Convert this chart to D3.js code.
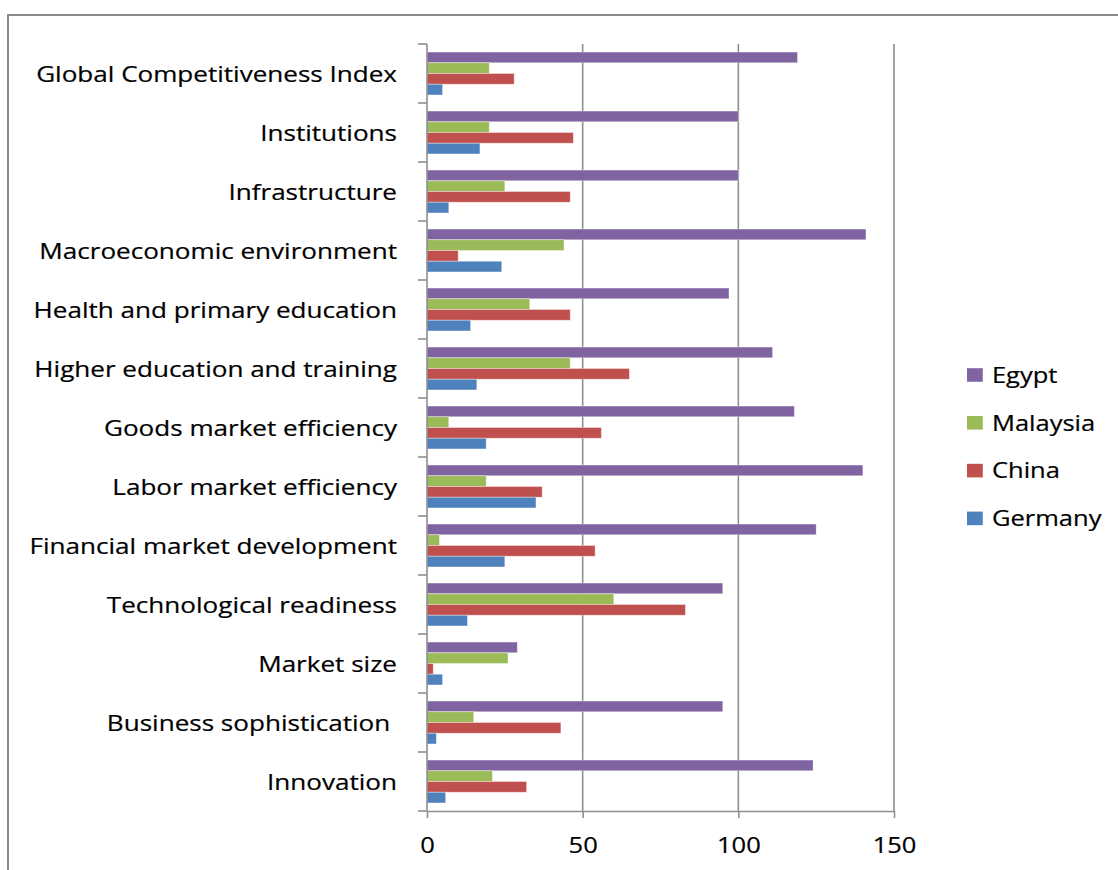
<!DOCTYPE html>
<html>
<head>
<meta charset="utf-8">
<script src="https://cdn.jsdelivr.net/npm/d3@7/dist/d3.min.js"></script>
<style>
  html, body { margin: 0; padding: 0; background: #fff; }
  svg text { font-family: "Open Sans", "Noto Sans", sans-serif; fill: #000; stroke: #000; stroke-width: 0.2px; white-space: pre; }
</style>
</head>
<body>
<svg id="chart" width="1118" height="870"></svg>
<script>
// Global Competitiveness rankings by pillar
const categories = [
  "Global Competitiveness Index",
  "Institutions",
  "Infrastructure",
  "Macroeconomic environment",
  "Health and primary education",
  "Higher education and training",
  "Goods market efficiency",
  "Labor market efficiency",
  "Financial market development",
  "Technological readiness",
  "Market size",
  "Business sophistication ",
  "Innovation"
];
const series = ["Egypt", "Malaysia", "China", "Germany"];
const egypt    = [119, 100, 100, 141, 97, 111, 118, 140, 125, 95, 29, 95, 124];
const malaysia = [20, 20, 25, 44, 33, 46, 7, 19, 4, 60, 26, 15, 21];
const china    = [28, 47, 46, 10, 46, 65, 56, 37, 54, 83, 2, 43, 32];
const germany  = [5, 17, 7, 24, 14, 16, 19, 35, 25, 13, 5, 3, 6];
const xTicks = [0, 50, 100, 150];

const seriesValues = { Egypt: egypt, Malaysia: malaysia, China: china, Germany: germany };
const colors = d3.scaleOrdinal()
  .domain(series)
  .range(["#8064A2", "#9BBB59", "#C0504D", "#4F81BD"]);

const svg = d3.select("#chart");
const stretch = 1.16;      // horizontal text stretch
const labelStretch = 1.185;
const fontSize = 22;
const gridColor = "#8f8f8f";

// chart area frame
svg.append("rect")
  .attr("x", 8).attr("y", 15)
  .attr("width", 1300).attr("height", 1000)
  .attr("fill", "none").attr("stroke", "#8a8a8a").attr("stroke-width", 2);

const x = d3.scaleLinear().domain([0, 150]).range([427, 894]);
const y = d3.scaleBand().domain(categories).range([44, 811]).paddingInner(0).paddingOuter(0);
const bw = y.bandwidth();
const barH = bw / (series.length + 1.5);
const ySub = d3.scaleBand().domain(series)
  .range([barH * 0.75, bw - barH * 0.75]).padding(0);

// vertical gridlines
svg.append("g").selectAll("line")
  .data(xTicks.filter(t => t > 0))
  .join("line")
  .attr("x1", d => x(d)).attr("x2", d => x(d))
  .attr("y1", y.range()[0]).attr("y2", y.range()[1])
  .attr("stroke", gridColor).attr("stroke-width", 1.6);

// bars
const rows = categories.map((c, i) => ({ cat: c, vals: series.map(s => ({ s, v: seriesValues[s][i] })) }));
const groups = svg.append("g").selectAll("g")
  .data(rows)
  .join("g")
  .attr("transform", d => `translate(0,${y(d.cat)})`);
groups.selectAll("rect")
  .data(d => d.vals)
  .join("rect")
  .attr("x", x(0))
  .attr("y", d => ySub(d.s))
  .attr("width", d => x(d.v) - x(0))
  .attr("height", ySub.bandwidth())
  .attr("fill", d => colors(d.s))
  .attr("stroke", "rgba(255,255,255,0.45)")
  .attr("stroke-width", 0.8);

// category axis line and boundary ticks
const yAxis = svg.append("g");
yAxis.append("line")
  .attr("x1", x(0)).attr("x2", x(0))
  .attr("y1", y.range()[0]).attr("y2", y.range()[1])
  .attr("stroke", gridColor).attr("stroke-width", 1.6);
const bounds = categories.map(c => y(c)).concat([y.range()[1]]);
yAxis.selectAll("line.tick")
  .data(bounds)
  .join("line")
  .attr("class", "tick")
  .attr("x1", x(0) - 9).attr("x2", x(0))
  .attr("y1", d => d).attr("y2", d => d)
  .attr("stroke", gridColor).attr("stroke-width", 1.6);
yAxis.selectAll("g.label")
  .data(categories)
  .join("g")
  .attr("class", "label")
  .attr("transform", d => `translate(${x(0) - 30},${y(d) + bw / 2 + 8}) scale(${labelStretch},1)`)
  .append("text")
  .attr("text-anchor", "end")
  .attr("font-size", fontSize)
  .text(d => d);

// value axis
const xAxis = svg.append("g")
  .attr("transform", `translate(0,${y.range()[1]})`)
  .call(d3.axisBottom(x).tickValues(xTicks).tickSize(7).tickSizeOuter(0).tickFormat(d3.format("d")));
xAxis.select(".domain").attr("stroke", gridColor).attr("stroke-width", 1.6);
xAxis.selectAll(".tick line").attr("stroke", gridColor).attr("stroke-width", 1.6);
xAxis.selectAll(".tick text")
  .attr("y", 42)
  .attr("dy", 0)
  .attr("font-size", fontSize)
  .attr("font-family", null)
  .attr("fill", "#000")
  .attr("transform", `scale(${stretch},1)`);

// legend
const legend = svg.append("g").selectAll("g")
  .data(series)
  .join("g")
  .attr("transform", (d, i) => `translate(967,${375 + i * 47.8}) scale(${stretch},1)`);
legend.append("rect")
  .attr("x", 0).attr("y", -6.8)
  .attr("width", 13.6).attr("height", 13.6)
  .attr("fill", d => colors(d));
legend.append("text")
  .attr("x", 21.5).attr("y", 7.8)
  .attr("font-size", fontSize)
  .text(d => d);
</script>
</body>
</html>
